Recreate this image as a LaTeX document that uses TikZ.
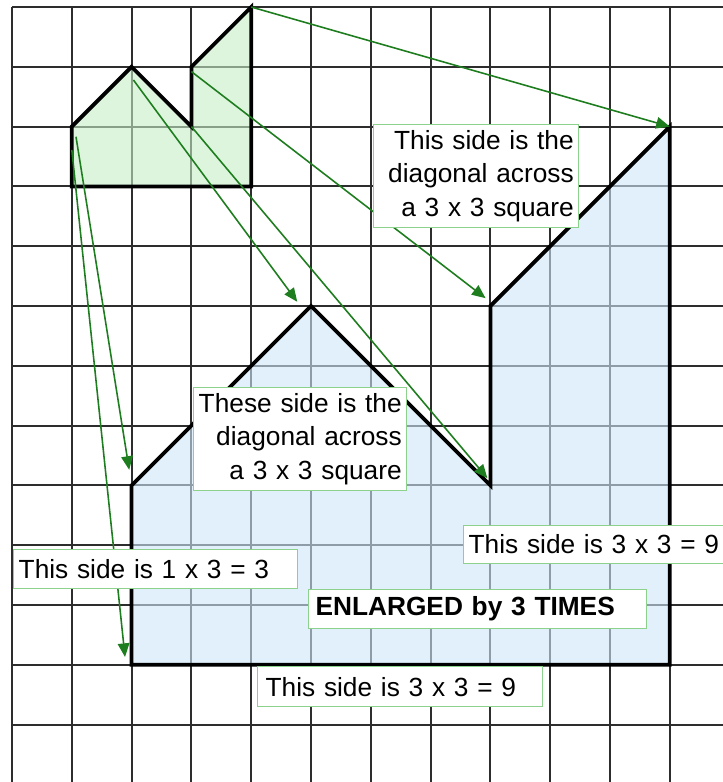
\documentclass[tikz,border=0pt]{standalone}
\usepackage{fontspec}
\newfontfamily\lsans{Liberation Sans}
\usetikzlibrary{arrows.meta}
\definecolor{gridcol}{RGB}{45,45,45}
\definecolor{greenfill}{RGB}{197,238,197}
\definecolor{bluefill}{RGB}{205,230,247}
\definecolor{arrowgreen}{RGB}{30,125,30}
\definecolor{boxgreen}{RGB}{140,210,140}
\begin{document}
\begin{tikzpicture}[x=1cm,y=1cm,
  gridline/.style={draw=gridcol, line width=1pt},
  shapeline/.style={draw=black, line width=1.8pt, line join=miter, fill opacity=0.6},
  arr/.style={draw=arrowgreen, line width=0.75pt, -{Triangle[length=6.5pt,width=5.5pt]}},
  txtbox/.style={draw=boxgreen, line width=0.6pt, fill=white, anchor=north west,
    font=\lsans\fontsize{12.5}{16}\selectfont, inner ysep=0pt, inner xsep=2.4pt},
  boldbox/.style={txtbox, font=\lsans\bfseries\fontsize{12.5}{16}\selectfont}]
\useasboundingbox (-0.2008,0.117) rectangle (11.883,-12.96);
% grid
\draw[gridline] (0,-12.96) grid (11.883,0);
% vertices of the small shape
\coordinate (s1) at (1,-2);
\coordinate (s2) at (2,-1);
\coordinate (s3) at (3,-2);
\coordinate (s4) at (3,-1);
\coordinate (s5) at (4,0);
\coordinate (s6) at (4,-3);
\coordinate (s7) at (1,-3);
% vertices of the big shape
\coordinate (b1) at (2,-8);
\coordinate (b2) at (5,-5);
\coordinate (b3) at (8,-8);
\coordinate (b4) at (8,-5);
\coordinate (b5) at (11,-2);
\coordinate (b6) at (11,-11);
\coordinate (b7) at (2,-11);
% shapes
\path[shapeline, fill=greenfill] (s1) -- (s2) -- (s3) -- (s4) -- (s5) -- (s6) -- (s7) -- cycle;
\path[shapeline, fill=bluefill] (b1) -- (b2) -- (b3) -- (b4) -- (b5) -- (b6) -- (b7) -- cycle;
% arrow ends
\coordinate (aB) at (2.03,-1.22);
\coordinate (tB) at (4.77,-4.93);
\coordinate (tC) at (7.95,-7.88);
\coordinate (aD) at (3,-1.08);
\coordinate (tD) at (7.92,-4.87);
\coordinate (aE) at (1.07,-2.17);
\coordinate (tE) at (1.96,-7.74);
\coordinate (aF) at (1.0,-2.39);
\coordinate (tF) at (1.89,-10.87);
% arrows
\draw[arr] (s5) -- (b5);
\draw[arr] (aB) -- (tB);
\draw[arr] (s3) -- (tC);
\draw[arr] (aD) -- (tD);
\draw[arr] (aE) -- (tE);
\draw[arr] (aF) -- (tF);
% text boxes
\node (box1) [txtbox, align=right, text width=3.261cm, minimum height=1.722cm] at (6.037,-1.957)
  {This side is the\\diagonal across\\a 3 x 3 square};
\node (box2) [txtbox, align=right, text width=3.395cm, minimum height=1.722cm] at (3.027,-6.355)
  {These side is the\\diagonal across\\a 3 x 3 square};
\node (box3) [txtbox, align=left, text width=4.582cm, minimum height=0.652cm] at (0.017,-9.064)
  {This side is 1 x 3 = 3};
\node (box4) [txtbox, align=left, text width=4.599cm, minimum height=0.635cm] at (7.542,-8.662)
  {This side is 3 x 3 = 9};
\node (box5) [boldbox, align=left, inner xsep=3.3pt, text width=5.418cm, minimum height=0.652cm] at (4.950,-9.732)
  {ENLARGED by 3 TIMES};
\node (box6) [txtbox, align=left, inner xsep=3.8pt, text width=4.498cm, minimum height=0.669cm] at (4.097,-11.020)
  {This side is 3 x 3 = 9};
\end{tikzpicture}
\end{document}
